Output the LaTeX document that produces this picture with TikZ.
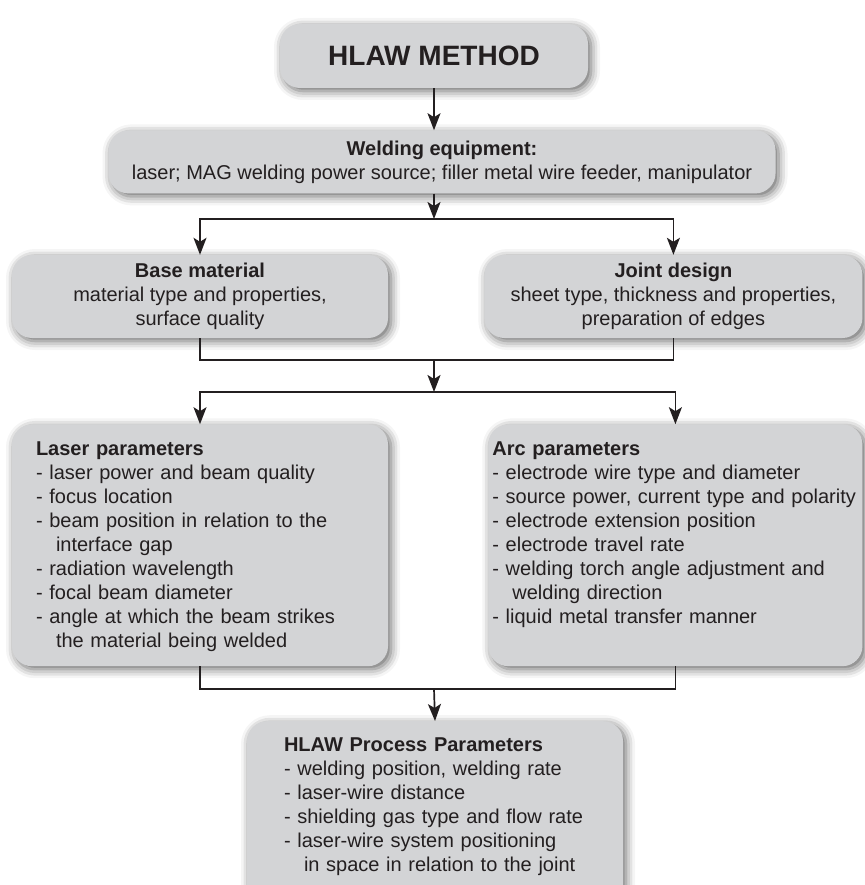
\documentclass[tikz,border=0pt]{standalone}
\usepackage{fontspec}
\setmainfont{Liberation Sans}
\usetikzlibrary{arrows.meta, positioning, shadows.blur}

\definecolor{boxgray}{RGB}{211,212,214}
\definecolor{inkgray}{RGB}{35,31,32}

\begin{document}
\begin{tikzpicture}[
        x=1pt, y=-1pt,
        box/.style={rectangle, fill=boxgray, rounded corners=20pt, text=inkgray,
            font=\fontsize{20}{24}\selectfont,
            blur shadow={shadow xshift=3pt, shadow yshift=-3pt, shadow blur radius=9pt, shadow opacity=60}},
        listbox/.style={box, align=left, inner ysep=17pt},
        line/.style={draw=inkgray, line width=1.7pt},
        arrow/.style={line, -{Stealth[length=17pt, width=13pt, inset=4pt]}},
        node distance=42pt and 96pt
    ]
        \useasboundingbox (0,0) rectangle (864,885);

        % Top of the chart
        \node[box, minimum width=308pt, minimum height=64pt, font=\fontsize{28}{32}\selectfont\bfseries] (method) at (434,56) {HLAW METHOD};
        \node[box, below=of method, xshift=8pt, minimum width=667pt, minimum height=63pt, align=center] (equip)
            {\textbf{Welding equipment:}\\laser; MAG welding power source; filler metal wire feeder, manipulator};

        % Material and joint
        \node[box, minimum width=376pt, minimum height=83pt, align=center] (base) at (200,296.5)
            {\textbf{Base material}\\material type and properties,\\surface quality};
        \node[box, right=of base, minimum width=378pt, minimum height=83pt, align=center] (joint)
            {\textbf{Joint design}\\sheet type, thickness and properties,\\preparation of edges};

        % Parameters
        \node[listbox, below=86pt of base, inner xsep=24pt, text width=328pt, text depth=194pt] (laser)
            {\textbf{Laser parameters}\\
            - laser power and beam quality\\
            - focus location\\
            - beam position in relation to the\\
            \hspace*{20pt}interface gap\\
            - radiation wavelength\\
            - focal beam diameter\\
            - angle at which the beam strikes\\
            \hspace*{20pt}the material being welded};
        \node[listbox, below=86pt of joint, xshift=2pt, inner xsep=4pt, text width=366pt, text depth=194pt] (arc)
            {\textbf{Arc parameters}\\
            - electrode wire type and diameter\\
            - source power, current type and polarity\\
            - electrode extension position\\
            - electrode travel rate\\
            - welding torch angle adjustment and\\
            \hspace*{20pt}welding direction\\
            - liquid metal transfer manner};

        % Result
        \node[listbox, anchor=north, inner xsep=37pt, text width=302pt, text depth=160pt] (process) at (435,721)
            {\textbf{HLAW Process Parameters}\\
            - welding position, welding rate\\
            - laser-wire distance\\
            - shielding gas type and flow rate\\
            - laser-wire system positioning\\
            \hspace*{20pt}in space in relation to the joint};

        % Junctions
        \coordinate (split1) at (434,219);
        \coordinate (merge1) at (434,360);
        \coordinate (split2) at (434,392);
        \coordinate (merge2) at (434,689);

        % Arrows
        \draw[arrow] (method.south) -- (method.south |- equip.north);
        \draw[arrow] (split1 |- equip.south) -- (split1);
        \draw[arrow] (split1) -| (base.north);
        \draw[arrow] (split1) -| (joint.north);
        \draw[line] (base.south) |- (merge1) -| (joint.south);
        \draw[arrow] (merge1) -- (split2);
        \draw[arrow] (split2) -| (laser.north);
        \draw[arrow] (split2) -| (arc.north);
        \draw[line] (laser.south) |- (merge2) -| (arc.south);
        \draw[arrow] (merge2) -- (process.north);
    \end{tikzpicture}
\end{document}
